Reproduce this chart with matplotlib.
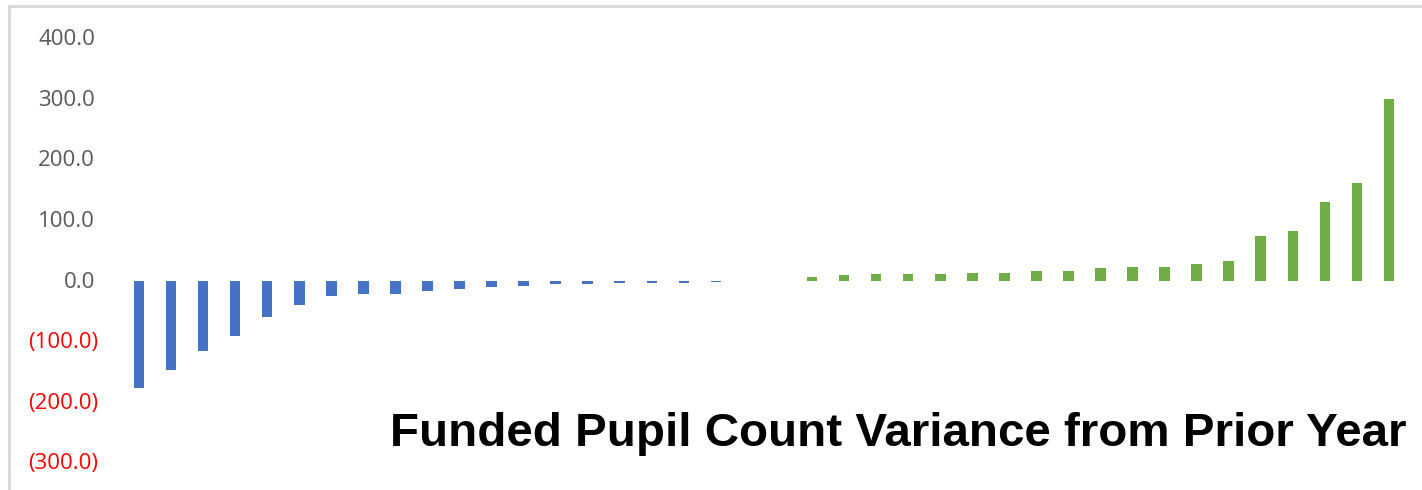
import numpy as np
import matplotlib.pyplot as plt
from matplotlib.lines import Line2D
from matplotlib.transforms import offset_copy

# Valores (variação de alunos financiados, ordenada)
negativos = [177, 147, 117, 91, 60, 40, 25, 23, 23, 17, 13.5, 11, 9, 6, 6, 4.7, 4.7, 4.7, 2.5]
zeros = [0, 0]
positivos = [6.5, 9, 11, 11, 11, 13, 13, 15, 15, 20, 22, 22, 27, 33, 74, 81, 130, 161, 299]

valores = [-v for v in negativos] + zeros + positivos
cores = ['#4472c4'] * len(negativos) + ['#4472c4'] * len(zeros) + ['#70ad47'] * len(positivos)

ticks_y = [400, 300, 200, 100, 0, -100, -200, -300]
titulo = 'Funded Pupil Count Variance from Prior Year'

W, H = 1422, 490
fig = plt.figure(figsize=(W / 100, H / 100), dpi=100)
ax = fig.add_axes([0, 0, 1, 1])
ax.axis('off')

# mapeamento de pixels: categoria 0 em x=139 px, passo 32.05 px; zero em y=280.5 px, 60.6 px por 100
passo = 32.05
x0 = 139
ax.set_xlim(-x0 / passo, (W - x0) / passo)
ax.set_ylim(-(H - 280.5) / 0.606, 280.5 / 0.606)

x = np.arange(len(valores))
ax.bar(x, valores, width=0.33, color=cores, edgecolor='none')

# rótulos do eixo y no estilo do Excel
trans = offset_copy(ax.get_yaxis_transform(), fig=fig, x=0, y=-1.5, units='dots')
for t in ticks_y:
    if t < 0:
        txt, cor, xp = f'({abs(t):.1f})', '#ff0000', 98
    else:
        txt, cor, xp = f'{t:.1f}', '#595959', 95
    ax.text(xp / W, t, txt, transform=trans, ha='right', va='center',
            fontsize=16, color=cor, family='Open Sans')

# moldura cinza (topo e esquerda)
fig.add_artist(Line2D([9 / W, 9 / W], [0, 1 - 6 / H], color='#d9d9d9', lw=2.2, transform=fig.transFigure))
fig.add_artist(Line2D([9 / W, 1], [1 - 6 / H, 1 - 6 / H], color='#d9d9d9', lw=2.2, transform=fig.transFigure))

fig.text(1406 / W, 1 - 446 / H, titulo, ha='right', va='baseline', fontsize=34.2,
         fontweight='bold', family='Liberation Sans', color='black')

fig.savefig('out.png', dpi=100)
